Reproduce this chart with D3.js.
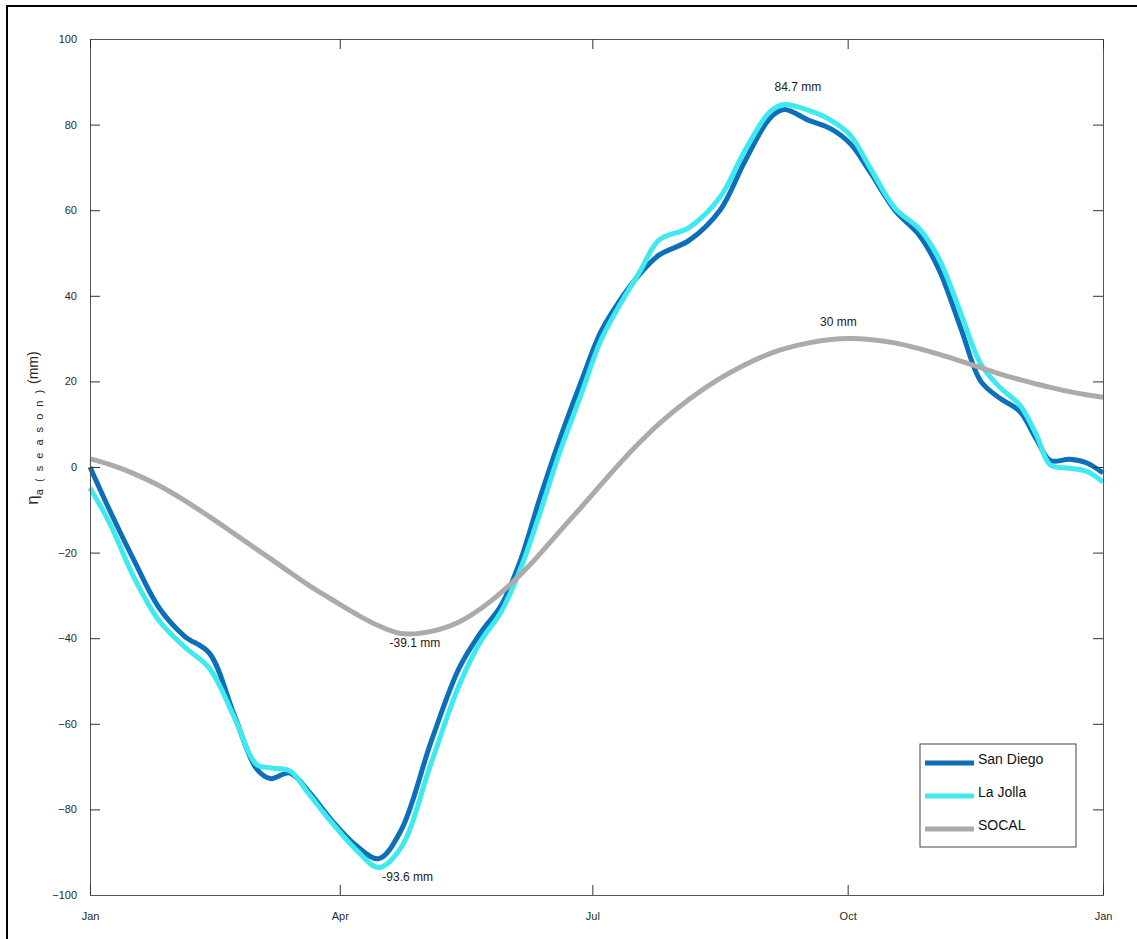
<!DOCTYPE html>
<head>
  <meta charset="utf-8">
  <title>Seasonal sea level</title>
  <script src="https://d3js.org/d3.v7.min.js"></script>
</head>
<body style="margin:0;background:#fff">
  <script>
    // day of year of each reading
    var days = [0, 7, 16, 25, 34, 43, 52, 60, 65, 72, 79, 87, 96, 104, 112, 123, 133, 141, 148, 155,
      162, 169, 177, 184, 191, 198, 205, 216, 227, 236, 245, 250, 259, 267, 274, 281, 290, 299, 306,
      314, 321, 328, 335, 341, 346, 353, 359, 365];

    var sanDiego = [0, -10, -22, -33, -39.5, -43.5, -58, -70.5, -72.8, -71.5, -76, -82.5, -88.5, -91.5,
      -85, -64, -47, -38.5, -32.5, -22, -7.5, 6, 20, 31.5, 39, 45, 49.5, 53, 60, 71.5, 81.5, 83.5, 81,
      79, 75.5, 69, 60, 54, 46, 32, 20, 16, 13, 6.5, 1.5, 1.8, 1, -1.4];

    var laJolla = [-4.9, -13, -26, -36, -42, -47, -58.5, -69.5, -70.3, -71, -76.5, -83, -89.5, -93.6,
      -89, -69, -51, -40.5, -34, -24, -11, 3, 17, 29.5, 38, 45.5, 53, 56, 63, 74, 83, 84.7, 83.3, 81,
      77.5, 70, 60.5, 55.5, 48.5, 35.5, 24, 18.5, 14.5, 7.5, 0.5, -0.3, -1, -3.5];

    var socal = [1.9, 0.6, -1.6, -4.4, -7.8, -11.6, -15.6, -19.2, -21.4, -24.6, -27.7, -30.9, -34.4,
      -37.1, -38.9, -38.4, -36.2, -33, -29.4, -25.2, -20.4, -15.2, -9.4, -4.2, 0.9, 5.7, 10.1, 15.9,
      20.7, 23.9, 26.5, 27.6, 29, 29.8, 30, 29.8, 29, 27.6, 26.3, 24.7, 23.2, 21.7, 20.4, 19.4, 18.6,
      17.6, 16.9, 16.3];

    var seriesNames = ['San Diego', 'La Jolla', 'SOCAL'];
    var seriesColors = ['#0b6fb9', '#3ee9ef', '#aeaaaa'];
    var yTicks = [-100, -80, -60, -40, -20, 0, 20, 40, 60, 80, 100];
    var monthTicks = ['Jan', 'Apr', 'Jul', 'Oct', 'Jan'];
    var monthDates = [new Date(2001, 0, 1), new Date(2001, 3, 1), new Date(2001, 6, 1),
      new Date(2001, 9, 1), new Date(2002, 0, 1)];

    // annotations: [day, value, label]
    var notes = [
      [250, 84.7, '84.7 mm'],
      [274, 30, '30 mm'],
      [112, -39.1, '-39.1 mm'],
      [104, -93.6, '-93.6 mm']
    ];
    var noteDx = [14, -12, 14, 29];

    var width = 1137, height = 939;
    var mLeft = 90, mRight = 1103, mTop = 39, mBottom = 895;

    var svg = d3.select('body').append('svg').attr('width', width).attr('height', height)
      .style('font-family', 'Liberation Sans, Arial, sans-serif');

    // figure frame
    svg.append('rect').attr('x', 7).attr('y', 6).attr('width', 1300).attr('height', 1300)
      .attr('fill', 'none').attr('stroke', '#000').attr('stroke-width', 2);

    var x = d3.scaleTime().domain([new Date(2001, 0, 1), new Date(2002, 0, 1)]).range([mLeft, mRight]);
    var y = d3.scaleLinear().domain([-100, 100]).range([mBottom, mTop]);

    function dayDate(d) { return d3.timeDay.offset(new Date(2001, 0, 1), d); }

    var line = d3.line()
      .x(function(d) { return x(dayDate(d[0])); })
      .y(function(d) { return y(d[1]); })
      .curve(d3.curveCatmullRom.alpha(0.5));

    var series = [sanDiego, laJolla, socal];
    series.forEach(function(vals, i) {
      svg.append('path')
        .datum(days.map(function(d, j) { return [d, vals[j]]; }))
        .attr('d', line)
        .attr('fill', 'none')
        .attr('stroke', seriesColors[i])
        .attr('stroke-width', 5)
        .attr('stroke-linejoin', 'round');
    });

    // axes, inward ticks on all sides
    var axL = d3.axisLeft(y).tickValues(yTicks).tickSize(-10).tickPadding(13).tickFormat(d3.format('d'));
    var axR = d3.axisRight(y).tickValues(yTicks).tickSize(-10).tickFormat('');
    var axB = d3.axisBottom(x).tickValues(monthDates).tickSize(-10).tickPadding(17)
      .tickFormat(function(d, i) { return monthTicks[i]; });
    var axT = d3.axisTop(x).tickValues(monthDates).tickSize(-10).tickFormat('');

    [[axL, 'translate(' + mLeft + ',0)'], [axR, 'translate(' + mRight + ',0)'],
     [axB, 'translate(0,' + mBottom + ')'], [axT, 'translate(0,' + mTop + ')']].forEach(function(a) {
      var g = svg.append('g').attr('transform', a[1]).call(a[0]);
      g.select('.domain').attr('stroke', '#555').attr('stroke-width', 1);
      g.selectAll('.tick line').attr('stroke', '#333');
      g.selectAll('.tick text').attr('fill', '#2a2a2a').style('font-size', '11px')
        .style('font-family', 'Liberation Sans, Arial, sans-serif');
    });

    // y label
    var yl = svg.append('text')
      .attr('transform', 'translate(38,428) rotate(-90)')
      .attr('text-anchor', 'middle')
      .attr('fill', '#262626');
    yl.append('tspan').text('η').style('font-size', '17px');
    yl.append('tspan').text('a ( s e a s o n )').attr('dy', 5).style('font-size', '11px')
      .style('letter-spacing', '2px');
    yl.append('tspan').text(' (mm)').attr('dy', -5).style('font-size', '14px');

    // annotations
    notes.forEach(function(n, i) {
      var px = x(dayDate(n[0])), py = y(n[1]);
      var up = n[1] > 0;
      svg.append('text')
        .attr('x', px + noteDx[i])
        .attr('y', up ? py - 13 : py + 13)
        .attr('text-anchor', 'middle')
        .style('font-size', '12px')
        .attr('fill', '#1a1a1a')
        .text(n[2]);
    });

    // legend
    var lg = svg.append('g').attr('transform', 'translate(920,744)');
    lg.append('rect').attr('width', 156).attr('height', 103)
      .attr('fill', '#fff').attr('stroke', '#444').attr('stroke-width', 1);
    seriesNames.forEach(function(name, i) {
      var ly = 19 + i * 33;
      lg.append('line').attr('x1', 5).attr('x2', 54).attr('y1', ly).attr('y2', ly)
        .attr('stroke', seriesColors[i]).attr('stroke-width', 5);
      lg.append('text').attr('x', 58).attr('y', ly + 1).style('font-size', '14px')
        .attr('fill', '#111').text(name);
    });
  </script>
</body>
